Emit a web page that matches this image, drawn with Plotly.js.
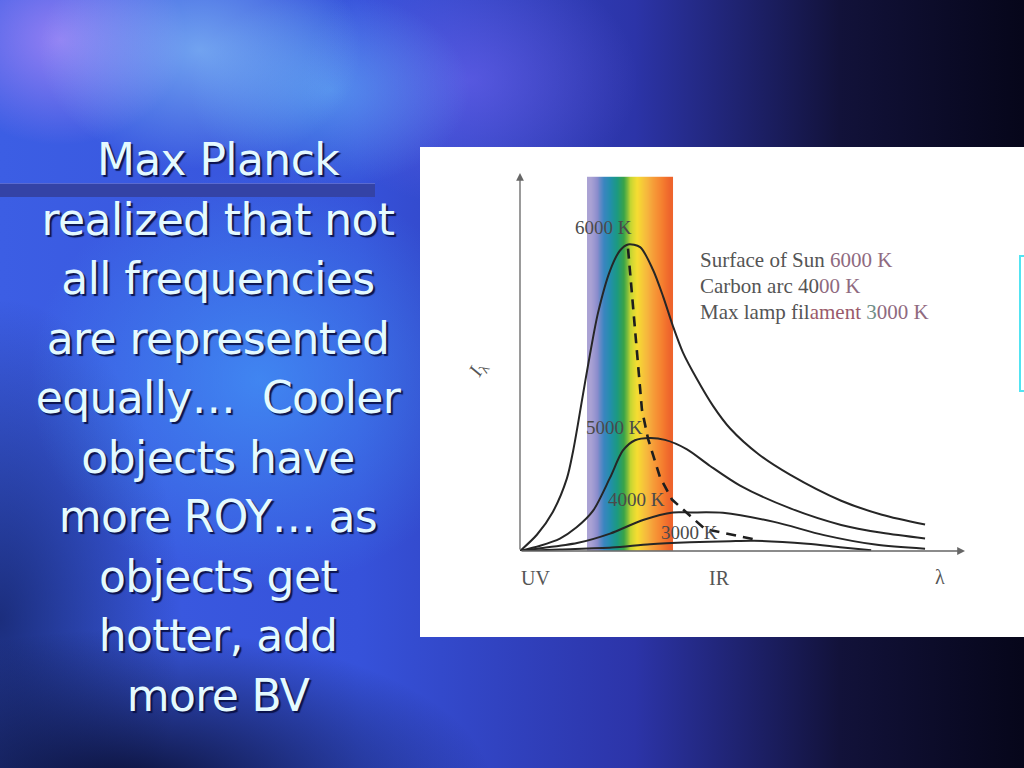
<!DOCTYPE html>
<html>
<head>
<meta charset="utf-8">
<script src="https://cdn.plot.ly/plotly-3.0.1.min.js"></script>
<style>
  html, body { margin:0; padding:0; }
  body {
    width:1024px; height:768px; overflow:hidden; position:relative;
    background:
      radial-gradient(ellipse 230px 170px at 200px 50px, rgba(160,225,255,0.55), rgba(160,225,255,0) 70%),
      radial-gradient(ellipse 180px 150px at 60px 40px, rgba(205,150,255,0.6), rgba(205,150,255,0) 70%),
      radial-gradient(ellipse 200px 140px at 330px 90px, rgba(110,210,255,0.45), rgba(110,210,255,0) 70%),
      radial-gradient(ellipse 240px 180px at 470px 80px, rgba(130,110,255,0.45), rgba(130,110,255,0) 70%),
      radial-gradient(ellipse 330px 300px at 260px 380px, rgba(70,165,255,0.6), rgba(70,165,255,0) 70%),
      radial-gradient(ellipse 520px 230px at 130px 790px, rgba(8,12,45,0.95), rgba(8,12,45,0) 70%),
      radial-gradient(ellipse 260px 460px at 0px 620px, rgba(10,20,70,0.65), rgba(10,20,70,0) 70%),
      linear-gradient(90deg, #3c5ee4 0%, #3652da 35%, #2c34a8 62%, #12123a 82%, #06061a 100%);
  }
  #bar { position:absolute; left:0; top:183px; width:375px; height:13px;
         background:#3443a6; border-top:1px solid #5a6ad0; }
  #slidetext { position:absolute; left:0; top:130px; width:436px; text-align:center;
         font-family:"DejaVu Sans", Verdana, sans-serif; font-size:44px; line-height:59.5px;
         color:#e4faff; text-shadow:2px 2px 1px rgba(8,16,70,0.95); letter-spacing:-0.6px; }
  #chart { position:absolute; left:420px; top:147px; width:604px; height:490px; }
  #cyan { position:absolute; left:1019px; top:255px; width:5px; height:137px;
          border-left:2px solid #52e4f2; border-top:2px solid #52e4f2; border-bottom:2px solid #52e4f2;
          box-sizing:border-box; }
</style>
</head>
<body>
<div id="bar"></div>
<div id="slidetext">Max Planck<br>realized that not<br>all frequencies<br>are represented<br>equally…&nbsp; Cooler<br>objects have<br>more ROY… as<br>objects get<br>hotter, add<br>more BV</div>
<div id="chart"></div>
<div id="cyan"></div>
<script>
// wavelength (μm) and relative intensity
const lam6000 = [0.150, 0.213, 0.273, 0.325, 0.348, 0.366, 0.381, 0.411, 0.441, 0.486, 0.523, 0.553, 0.598, 0.646, 0.684, 0.721, 0.758, 0.810, 0.870, 0.934, 1.040, 1.157, 1.348, 1.500, 1.661];
const int6000 = [0, 4.3, 10.4, 19.2, 26.4, 33.5, 39.8, 52.0, 63.0, 74.2, 79.5, 81.1, 80.4, 74.4, 67.3, 59.4, 52.5, 45.5, 38.4, 32.4, 25.6, 20.2, 13.3, 9.6, 7.0];

const lam5000 = [0.150, 0.225, 0.299, 0.360, 0.422, 0.486, 0.534, 0.579, 0.635, 0.691, 0.773, 0.859, 0.971, 1.161, 1.348, 1.500, 1.661];
const int5000 = [0, 1.4, 3.3, 6.2, 10.6, 19.4, 26.6, 29.3, 29.9, 29.4, 26.9, 22.5, 17.3, 11.2, 6.9, 4.8, 3.3];

const lam4000 = [0.150, 0.213, 0.363, 0.486, 0.609, 0.721, 0.784, 0.907, 1.098, 1.284, 1.475, 1.661];
const int4000 = [0, 0.6, 2.1, 4.6, 8.2, 10.2, 10.2, 10.1, 7.7, 4.2, 1.7, 0.6];

const lam3000 = [0.150, 0.299, 0.493, 0.635, 0.784, 0.934, 1.023, 1.221, 1.344, 1.460];
const int3000 = [0, 0.4, 0.9, 1.8, 2.3, 2.6, 2.7, 1.9, 1.0, 0.2];

// locus of the peaks (dashed)
const lamPeak = [0.553, 0.579, 0.605, 0.628, 0.672, 0.717, 0.766, 0.840, 1.023];
const intPeak = [80.0, 58.4, 37.3, 29.6, 19.6, 13.6, 10.5, 5.8, 3.1];

// visible band
const bandEdges = [0.400, 0.4247, 0.4494, 0.4741, 0.4988, 0.5235, 0.5482, 0.5729, 0.5976, 0.6223, 0.6470, 0.6717, 0.6964, 0.7211];
const bandColors = ['#aaa2d4', '#8a8ccc', '#3a86c0', '#2290aa', '#1c9a82', '#3aa448', '#c4d632', '#f6de32', '#f6c23c', '#f6a83c', '#f69034', '#f47a2e', '#ee642c'];
const bandTop = 99;

const curveLabels = ['6000 K', '5000 K', '4000 K', '3000 K'];
const legendLines = [
  'Surface of Sun <span style="color:#8f6a80">6000 K</span>',
  'Carbon arc 40<span style="color:#8f6a80">00 K</span>',
  'Max lamp fil<span style="color:#9a5a6a">ament</span> <span style="color:#6f8f88">3</span><span style="color:#8f6a80">000 K</span>'
];
const axisLabels = ['UV', 'IR', 'λ'];

const zRow = bandColors.map((c, i) => i);
const cscale = bandColors.map((c, i) => [i / (bandColors.length - 1), c]);

const curveStyle = {color: '#262626', width: 2, shape: 'spline', smoothing: 0.8};
const traces = [
  {type: 'heatmap', x: bandEdges, y: [0, bandTop], z: [zRow], colorscale: cscale,
   zsmooth: 'best', showscale: false, hoverinfo: 'skip'},
  {type: 'scatter', mode: 'lines', x: lam6000, y: int6000, line: curveStyle, hoverinfo: 'skip'},
  {type: 'scatter', mode: 'lines', x: lam5000, y: int5000, line: curveStyle, hoverinfo: 'skip'},
  {type: 'scatter', mode: 'lines', x: lam4000, y: int4000, line: curveStyle, hoverinfo: 'skip'},
  {type: 'scatter', mode: 'lines', x: lam3000, y: int3000, line: curveStyle, hoverinfo: 'skip'},
  {type: 'scatter', mode: 'lines', x: lamPeak, y: intPeak,
   line: {color: '#1e1e1e', width: 2.6, dash: '10px,7px'}, hoverinfo: 'skip'}
];

const serif = 'Liberation Serif, Times New Roman, serif';
const txtCol = '#555555';
const labelPos = [[0.460, 85.7], [0.501, 32.8], [0.583, 13.5], [0.784, 5.0]];
const ann = [];
curveLabels.forEach((t, i) => ann.push({x: labelPos[i][0], y: labelPos[i][1], text: t, showarrow: false,
  font: {family: serif, size: 19, color: '#4a4a4a'}}));
const legY = [77.0, 70.1, 63.2];
legendLines.forEach((t, i) => ann.push({x: 0.814, y: legY[i], text: t, showarrow: false, xanchor: 'left',
  font: {family: serif, size: 21, color: txtCol}}));
// labels below / beside the axes (paper coordinates of the plot area)
const axPos = [[0.034, -0.071], [0.449, -0.071], [0.944, -0.069]];
axisLabels.forEach((t, i) => ann.push({xref: 'paper', yref: 'paper', x: axPos[i][0], y: axPos[i][1],
  xanchor: 'center', yanchor: 'middle',
  text: t, showarrow: false, font: {family: serif, size: 20, color: txtCol}}));
ann.push({xref: 'paper', yref: 'paper', x: -0.094, y: 0.479, xanchor: 'center', yanchor: 'middle',
  text: '<i>I</i><sub>λ</sub>', showarrow: false,
  textangle: -60, font: {family: serif, size: 20, color: txtCol}});
// axes with arrows
ann.push({x: 1.81, y: 0, ax: 0.15, ay: 0, axref: 'x', ayref: 'y', text: '', showarrow: true,
  arrowhead: 2, arrowsize: 1.2, arrowwidth: 1.3, arrowcolor: '#666'});
ann.push({x: 0.15, y: 100, ax: 0.15, ay: 0, axref: 'x', ayref: 'y', text: '', showarrow: true,
  arrowhead: 2, arrowsize: 1.2, arrowwidth: 1.3, arrowcolor: '#666'});

const layout = {
  width: 604, height: 490,
  margin: {l: 100, r: 59, t: 26, b: 86},
  paper_bgcolor: '#ffffff', plot_bgcolor: '#ffffff',
  showlegend: false,
  xaxis: {range: [0.15, 1.81], visible: false, fixedrange: true},
  yaxis: {range: [0, 100], visible: false, fixedrange: true},
  annotations: ann
};
Plotly.newPlot('chart', traces, layout, {displayModeBar: false, staticPlot: true});
</script>
</body>
</html>
